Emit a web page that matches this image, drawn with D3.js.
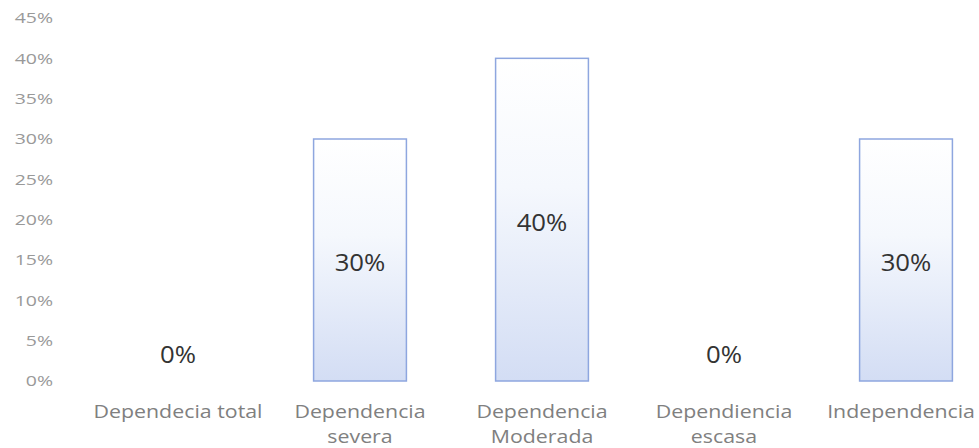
<!DOCTYPE html>
<html>
<head>
<meta charset="utf-8">
<script src="https://cdn.jsdelivr.net/npm/d3@7"></script>
<style>
  body { margin: 0; background: #fff; }
  svg { display: block; }
</style>
</head>
<body>
<svg id="chart" width="979" height="448"></svg>
<script>
// chart data
const categories = [
  ["Dependecia total"],
  ["Dependencia", "severa"],
  ["Dependencia", "Moderada"],
  ["Dependiencia", "escasa"],
  ["Independencia"]
];
const values = [0, 30, 40, 0, 30];
const yTicks = [0, 5, 10, 15, 20, 25, 30, 35, 40, 45];

const W = 979;
const svg = d3.select("#chart");
const margin = { top: 18, bottom: 67 };
const innerBottom = 448 - margin.bottom;

const x = d3.scaleBand()
  .domain(d3.range(categories.length))
  .range([87, 997])
  .paddingInner(0.49)
  .paddingOuter(0.245);

const y = d3.scaleLinear()
  .domain([0, 45])
  .range([innerBottom, margin.top]);

// gradient fill (white top, pale blue bottom)
const defs = svg.append("defs");
const grad = defs.append("linearGradient")
  .attr("id", "barFill")
  .attr("x1", 0).attr("y1", 0).attr("x2", 0).attr("y2", 1);
grad.append("stop").attr("offset", "0%").attr("stop-color", "#ffffff");
grad.append("stop").attr("offset", "40%").attr("stop-color", "#f5f8fd");
grad.append("stop").attr("offset", "100%").attr("stop-color", "#d3ddf4");

// y axis labels (text is a bit wide in the scan, so stretch it)
const yAxis = d3.axisLeft(y)
  .tickValues(yTicks)
  .tickSize(0)
  .tickPadding(0)
  .tickFormat(d => d + "%");

svg.append("g")
  .attr("transform", "translate(53,0)")
  .call(yAxis)
  .call(g => g.select(".domain").remove())
  .selectAll("text")
  .attr("fill", "#999")
  .attr("font-family", "Open Sans")
  .attr("font-size", "15px")
  .attr("transform", "scale(1.3,1)");

// bars
svg.selectAll(".bar")
  .data(values)
  .join("rect")
  .attr("class", "bar")
  .attr("x", (d, i) => x(i))
  .attr("y", d => y(d))
  .attr("width", x.bandwidth())
  .attr("height", d => innerBottom - y(d))
  .attr("fill", "url(#barFill)")
  .attr("stroke", d => d > 0 ? "#8ea6df" : "none")
  .attr("stroke-width", 1.5);

// value labels
svg.selectAll(".val")
  .data(values)
  .join("text")
  .attr("class", "val")
  .attr("transform", (d, i) => {
    const cx = x(i) + x.bandwidth() / 2;
    const cy = d > 0 ? (y(d) + innerBottom) / 2 + 5 : innerBottom - 24;
    return `translate(${cx},${cy}) scale(1.12,1)`;
  })
  .attr("text-anchor", "middle")
  .attr("dominant-baseline", "middle")
  .attr("fill", "#333")
  .attr("font-family", "Open Sans")
  .attr("font-size", "23px")
  .text(d => d + "%");

// category labels, kept inside the right edge
const sx = 1.22;
const xAxis = svg.append("g");
categories.forEach((lines, i) => {
  let cx = x(i) + x.bandwidth() / 2;
  const t = xAxis.append("text")
    .attr("text-anchor", "middle")
    .attr("fill", "#808080")
    .attr("font-family", "Open Sans")
    .attr("font-size", "17.5px");
  lines.forEach((s, j) => {
    t.append("tspan")
      .attr("x", 0)
      .attr("dy", j === 0 ? 0 : 25)
      .text(s);
  });
  const half = t.node().getBBox().width * sx / 2;
  cx = Math.min(cx, W - 4 - half);
  t.attr("transform", `translate(${cx},418) scale(${sx},1)`);
});
</script>
</body>
</html>
